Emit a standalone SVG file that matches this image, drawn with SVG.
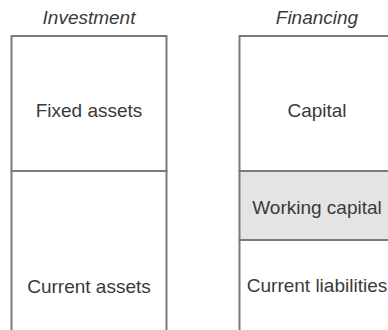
<svg xmlns="http://www.w3.org/2000/svg" width="388" height="330" viewBox="0 0 388 330">
  <style>
    .box { fill: #ffffff; stroke: #7a7a7a; stroke-width: 2; }
    .shade { fill: #e4e4e4; }
    .lbl { font-family: "Liberation Sans", Arial, sans-serif; font-size: 19px; fill: #3a3a3a; text-anchor: middle; }
    .ttl { font-family: "Liberation Sans", Arial, sans-serif; font-size: 19px; font-style: italic; fill: #3a3a3a; text-anchor: middle; }
  </style>
  <rect width="388" height="330" fill="#ffffff"/>
  <text class="ttl" x="89" y="24">Investment</text>
  <text class="ttl" x="317" y="24">Financing</text>
  <g id="fixed-assets">
    <rect class="box" x="11.5" y="36" width="155" height="135"/>
    <text class="lbl" x="89" y="117">Fixed assets</text>
  </g>
  <g id="current-assets">
    <rect class="box" x="11.5" y="171" width="155" height="170"/>
    <text class="lbl" x="89" y="293">Current assets</text>
  </g>
  <g id="capital">
    <rect class="box" x="239.5" y="36" width="155" height="135"/>
    <text class="lbl" x="317" y="117">Capital</text>
  </g>
  <g id="working-capital">
    <rect class="box shade" x="239.5" y="171" width="155" height="69"/>
    <text class="lbl" x="317" y="214">Working capital</text>
  </g>
  <g id="current-liabilities">
    <rect class="box" x="239.5" y="240" width="155" height="101"/>
    <text class="lbl" x="317" y="292">Current liabilities</text>
  </g>
  <g id="connectors"/>
</svg>
